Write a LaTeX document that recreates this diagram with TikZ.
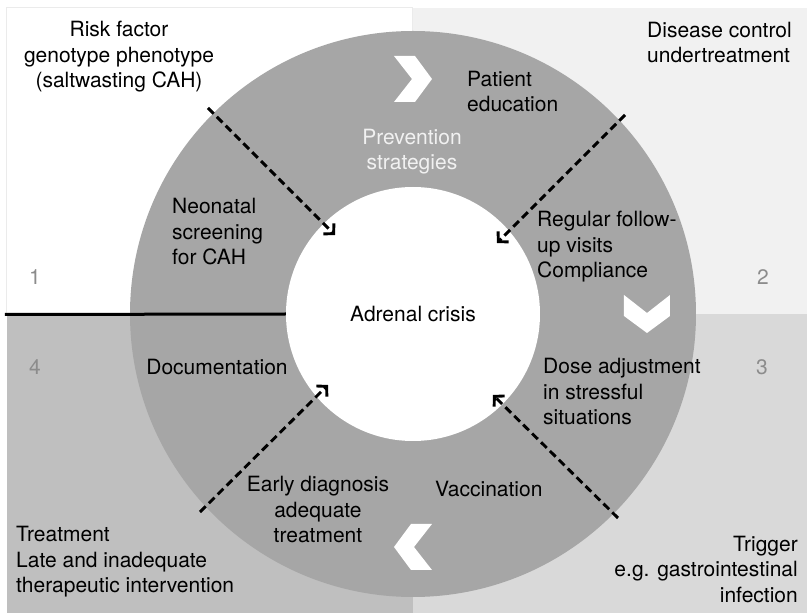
\documentclass[tikz,border=0pt]{standalone}
\usepackage{fontspec}
\setmainfont{TeX Gyre Heros}
\usepackage{xcolor}
\usetikzlibrary{arrows.meta}
\definecolor{quadlight}{HTML}{F1F1F1}
\definecolor{quadmid}{HTML}{D9D9D9}
\definecolor{quaddark}{HTML}{BFBFBF}
\definecolor{ringgrey}{HTML}{A6A6A6}
\definecolor{numbergrey}{HTML}{8C8C8C}
\definecolor{edgegrey}{HTML}{EBEBEB}

\tikzset{
  chevron/.pic={
    \fill[white] (-19,23) -- (2,23) -- (19,0) -- (2,-23) -- (-19,-23) -- (-1,0) -- cycle;
  }
}

\begin{document}
\begin{tikzpicture}[
  x=1pt,
  y=1pt,
  every node/.style={font=\fontsize{21}{25.5}\selectfont, inner sep=0pt},
  quad/.style={draw=edgegrey, line width=1pt},
  hub/.style={circle, fill=white, minimum size=254pt, inner sep=0pt},
  divider/.style={black, line width=3pt},
  cause/.style={black, line width=2.9pt, dash pattern=on 8pt off 4.5pt,
    -{Straight Barb[length=7pt, width=15pt]}},
  entry/.style={anchor=base west, align=left},
  quadnum/.style={numbergrey, anchor=base}
]
  % ---- page, origin at the centre of the ring -----------------------------
  \path (-413,-299) rectangle (394,314);

  % ---- the four quadrants -------------------------------------------------
  \filldraw[quad, fill=white]     (-406,0) rectangle (0,306);
  \fill[quadlight] (0,0) rectangle (394,306);
  \fill[quadmid]   (0,-299) rectangle (394,0);
  \fill[quaddark]  (-406,-299) rectangle (0,0);

  % ---- ring and hub -------------------------------------------------------
  \fill[ringgrey] (0,0) circle (283);
  \node[hub] (crisis) at (0,0) {Adrenal crisis};

  % ---- direction marks on the ring ----------------------------------------
  \pic at (0,235) {chevron};
  \pic[rotate=-90] at (234,0) {chevron};
  \pic[rotate=180] at (0,-233) {chevron};

  % ---- divider between quadrants 1 and 4 ----------------------------------
  \coordinate (leftedge) at (-408,-0.5);
  \draw[divider] (leftedge) -- (crisis.west);

  % ---- dashed arrows into the hub -----------------------------------------
  \coordinate (riskfrom)    at (-205,206);
  \coordinate (riskto)      at (-78,79);
  \coordinate (controlfrom) at (212,199);
  \coordinate (controlto)   at (84,71);
  \coordinate (triggerfrom) at (205,-204);
  \coordinate (triggerto)   at (80,-81);
  \coordinate (treatfrom)   at (-213,-198);
  \coordinate (treatto)     at (-85,-71);
  \draw[cause] (riskfrom) -- (riskto);
  \draw[cause] (controlfrom) -- (controlto);
  \draw[cause] (triggerfrom) -- (triggerto);
  \draw[cause] (treatfrom) -- (treatto);

  % ---- quadrant titles (base = last line) ---------------------------------
  \node[entry, anchor=base, align=center] (risk) at (-294,226)
    {Risk factor\\genotype phenotype\\(saltwasting CAH)};
  \node[entry] (control) at (234,251) {Disease control\\undertreatment};
  \node[entry, anchor=base east, align=right] (trigger) at (385,-288)
    {Trigger\\e.g. gastrointestinal\\infection};
  \node[entry] (treatment) at (-397,-279)
    {Treatment\\Late and inadequate\\therapeutic intervention};

  % ---- measures on the ring -----------------------------------------------
  \node[entry, anchor=base, align=center, text=quadlight] (prevention) at (-1,144)
    {Prevention\\strategies};
  \node[entry] (education) at (54,202) {Patient\\education};
  \node[entry] (screening) at (-241,49) {Neonatal\\screening\\for CAH};
  \node[entry] (followup) at (124,36) {Regular follow-\\up visits\\Compliance};
  \node[anchor=base] (documentation) at (-196,-61) {Documentation};
  \node[entry] (dose) at (130,-111) {Dose adjustment\\in stressful\\situations};
  \node[entry] (vaccination) at (22,-183) {Vaccination};
  \node[entry, anchor=base, align=center] (diagnosis) at (-95,-229)
    {Early diagnosis\\adequate\\treatment};

  % ---- quadrant numbers ---------------------------------------------------
  \node[quadnum] (one)   at (-378,29)  {1};
  \node[quadnum] (two)   at (350,29)   {2};
  \node[quadnum] (three) at (349,-61)  {3};
  \node[quadnum] (four)  at (-378,-61) {4};
\end{tikzpicture}
\end{document}
